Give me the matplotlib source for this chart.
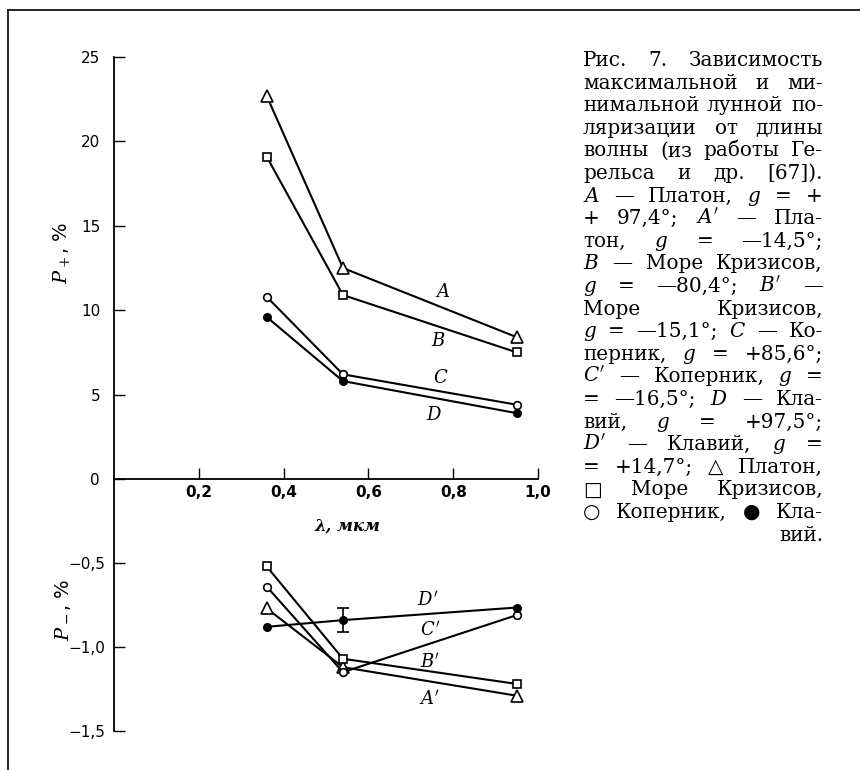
import matplotlib
matplotlib.use("Agg")
import matplotlib.pyplot as plt
from matplotlib.lines import Line2D

# polarization vs wavelength (Gehrels et al.)
wl = [0.36, 0.54, 0.95]

# maximum polarization P+, %
A = [22.7, 12.5, 8.4]    # Platon
B = [19.1, 10.9, 7.5]    # Mare Crisium
C = [10.8, 6.2, 4.4]     # Copernicus
D = [9.6, 5.8, 3.9]      # Clavius

# minimum polarization P-, %
A_min = [-0.77, -1.12, -1.29]
B_min = [-0.52, -1.07, -1.22]
C_min = [-0.64, -1.15, -0.81]
D_min = [-0.88, -0.84, -0.765]
D_min_err = 0.07   # error bar on the middle point of D'

xticks = [0.2, 0.4, 0.6, 0.8, 1.0]
xticklabels = ["0,2", "0,4", "0,6", "0,8", "1,0"]
yticks_top = [0, 5, 10, 15, 20, 25]
yticks_bot = [-0.5, -1.0, -1.5]
yticklabels_bot = ["\u22120,5", "\u22121,0", "\u22121,5"]

caption = [
    "Рис. 7. Зависимость",
    "максимальной и ми-",
    "нимальной лунной по-",
    "ляризации от длины",
    "волны (из работы Ге-",
    "рельса и др. [67]).",
    "$A$ — Платон, $g$ = +",
    "+ 97,4°; $A'$ — Пла-",
    "тон, $g$ = —14,5°;",
    "$B$ — Море Кризисов,",
    "$g$ = —80,4°; $B'$ —",
    "Море Кризисов,",
    "$g$ = —15,1°; $C$ — Ко-",
    "перник, $g$ = +85,6°;",
    "$C'$ — Коперник, $g$ =",
    "= —16,5°; $D$ — Кла-",
    "вий, $g$ = +97,5°;",
    "$D'$ — Клавий, $g$ =",
    "= +14,7°; △ Платон,",
    "□ Море Кризисов,",
    "○ Коперник, ● Кла-",
    "вий.",
]

plt.rcParams["mathtext.fontset"] = "dejavuserif"

W, H = 860, 770
fig = plt.figure(figsize=(W / 100, H / 100), dpi=100)


def fx(px):
    return px / W


def fy(py):
    return 1 - py / H


# axes geometry in pixels
x0, x1 = 114, 538
y_top, y_zero, y_bot = 57, 479, 731

ax = fig.add_axes([fx(x0), fy(y_zero), fx(x1) - fx(x0), (y_zero - y_top) / H])
ax2 = fig.add_axes([fx(x0), fy(y_bot), fx(x1) - fx(x0), (y_bot - y_zero) / H])

lw = 1.5
open_kw = dict(color="black", lw=lw, mfc="white", mec="black", mew=1.2)

ax.plot(wl, A, marker="^", ms=8, **open_kw)
ax.plot(wl, B, marker="s", ms=6, **open_kw)
ax.plot(wl, C, marker="o", ms=5.5, **open_kw)
ax.plot(wl, D, marker="o", ms=5.5, color="black", lw=lw)

ax2.plot(wl, A_min, marker="^", ms=8, **open_kw)
ax2.plot(wl, B_min, marker="s", ms=6, **open_kw)
ax2.plot(wl, C_min, marker="o", ms=5.5, **open_kw)
ax2.plot(wl, D_min, marker="o", ms=5.5, color="black", lw=lw)
ax2.errorbar([wl[1]], [D_min[1]], yerr=D_min_err, fmt="none",
             ecolor="black", elinewidth=1.2, capsize=4, capthick=1.2)

lab_kw = dict(fontsize=13, ha="center", va="center")
ax.text(0.775, 11.1, "$A$", **lab_kw)
ax.text(0.765, 8.15, "$B$", **lab_kw)
ax.text(0.77, 6.0, "$C$", **lab_kw)
ax.text(0.755, 3.8, "$D$", **lab_kw)
ax2.text(0.74, -0.72, "$D'$", **lab_kw)
ax2.text(0.745, -0.90, "$C'$", **lab_kw)
ax2.text(0.745, -1.09, "$B'$", **lab_kw)
ax2.text(0.745, -1.31, "$A'$", **lab_kw)

# upper axes
ax.set_xlim(0, 1.0)
ax.set_ylim(0, 25)
for s in ["top", "right"]:
    ax.spines[s].set_visible(False)
for s in ["left", "bottom"]:
    ax.spines[s].set_linewidth(1.3)
ax.set_xticks(xticks)
ax.set_xticklabels(xticklabels, fontsize=11, fontweight="bold")
ax.set_yticks(yticks_top)
ax.set_yticklabels([str(v) for v in yticks_top], fontsize=11)
ax.tick_params(axis="both", direction="in", length=8, width=1)
ax.tick_params(axis="y", pad=10)
ax.tick_params(axis="x", pad=4)
ax.set_xlabel("λ, мкм", fontsize=12, fontstyle="italic", fontweight="bold",
              family="DejaVu Serif")
ax.xaxis.set_label_coords(0.55, -0.092)
ax.set_ylabel("$P_+$, %", fontsize=14)
ax.yaxis.set_label_coords(-0.10, 0.535)
ax.patch.set_alpha(0)

# lower axes
ax2.set_xlim(0, 1.0)
ax2.set_ylim(-1.5, 0)
for s in ["top", "right", "bottom"]:
    ax2.spines[s].set_visible(False)
ax2.spines["left"].set_linewidth(1.3)
ax2.set_xticks([])
ax2.set_yticks(yticks_bot)
ax2.set_yticklabels(yticklabels_bot, fontsize=11)
ax2.tick_params(axis="y", direction="in", length=8, width=1, pad=6)
ax2.set_ylabel("$P_-$, %", fontsize=14)
ax2.yaxis.set_label_coords(-0.10, 0.48)
ax2.patch.set_alpha(0)

# page frame from the scan
fig.add_artist(Line2D([fx(8), fx(8)], [fy(10), fy(770)], color="black", lw=1.2))
fig.add_artist(Line2D([fx(8), fx(860)], [fy(10), fy(10)], color="black", lw=1.2))

# caption, justified between two margins
cap_left, cap_right = 583, 823
cap_kw = dict(fontsize=14.4, family=["DejaVu Serif", "DejaVu Sans"], va="baseline")
renderer = fig.canvas.get_renderer()
for i, line in enumerate(caption):
    yb = fy(66 + i * 22.6)
    if i == len(caption) - 1:
        fig.text(fx(cap_right), yb, line, ha="right", **cap_kw)
        continue
    words = line.split(" ")
    texts = [fig.text(0, yb, w, ha="left", **cap_kw) for w in words]
    widths = [t.get_window_extent(renderer).width for t in texts]
    gap = (cap_right - cap_left - sum(widths)) / max(len(words) - 1, 1)
    xpos = cap_left
    for t, w in zip(texts, widths):
        t.set_x(fx(xpos))
        xpos += w + gap

fig.savefig("out.png", dpi=100)
